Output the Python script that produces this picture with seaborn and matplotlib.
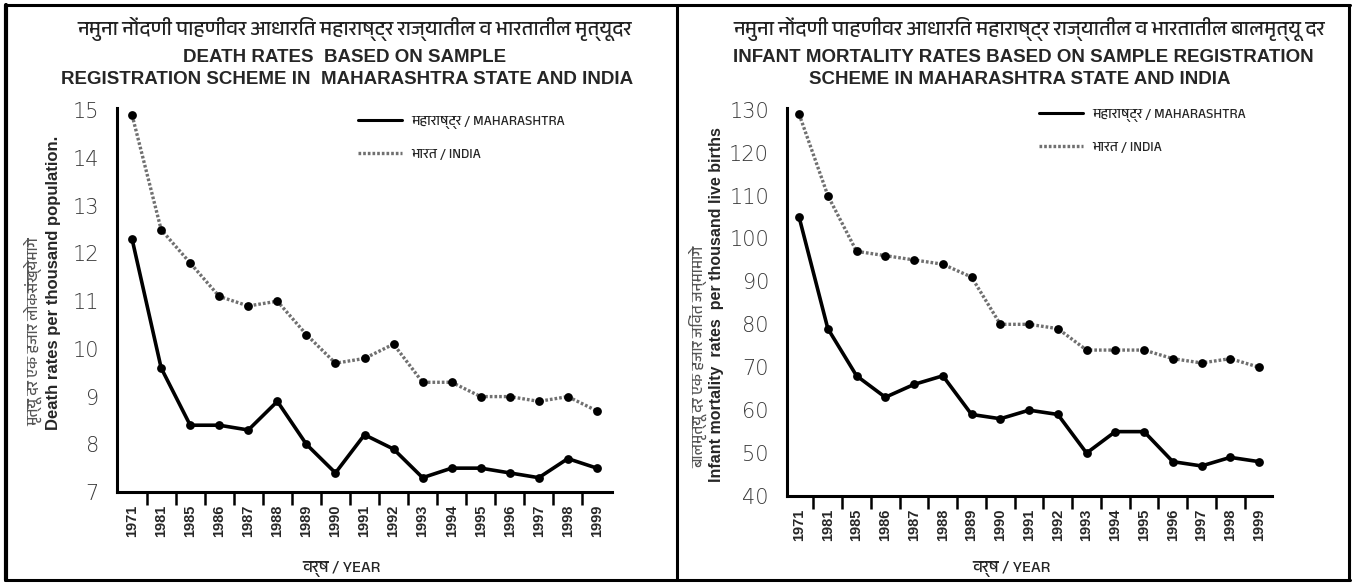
import numpy as np
import pandas as pd
import matplotlib
matplotlib.use("Agg")
import matplotlib.pyplot as plt
from matplotlib import font_manager
from matplotlib.lines import Line2D
from matplotlib.ticker import FixedLocator, NullFormatter
import seaborn as sns

# ---- data -------------------------------------------------------------
years = ["1971", "1981", "1985", "1986", "1987", "1988", "1989", "1990", "1991",
         "1992", "1993", "1994", "1995", "1996", "1997", "1998", "1999"]

death_maharashtra = [12.3, 9.6, 8.4, 8.4, 8.3, 8.9, 8.0, 7.4, 8.2, 7.9, 7.3, 7.5,
                     7.5, 7.4, 7.3, 7.7, 7.5]
death_india = [14.9, 12.5, 11.8, 11.1, 10.9, 11.0, 10.3, 9.7, 9.8, 10.1, 9.3, 9.3,
               9.0, 9.0, 8.9, 9.0, 8.7]

imr_maharashtra = [105, 79, 68, 63, 66, 68, 59, 58, 60, 59, 50, 55, 55, 48, 47, 49, 48]
imr_india = [129, 110, 97, 96, 95, 94, 91, 80, 80, 79, 74, 74, 74, 72, 71, 72, 70]

death_yticks = [7, 8, 9, 10, 11, 12, 13, 14, 15]
imr_yticks = [40, 50, 60, 70, 80, 90, 100, 110, 120, 130]

series_labels = ["महाराष्ट्र / MAHARASHTRA", "भारत / INDIA"]

# ---- fonts ------------------------------------------------------------
sns.set_theme(style="white")
names = {f.name for f in font_manager.fontManager.ttflist}
deva = [n for n in names if "Devanagari" in n or "Lohit" in n or "Mukta" in n
        or "Hind" in n or "Mangal" in n or "Gargi" in n]
latin = "Liberation Sans"
families = [latin] + sorted(deva) + ["DejaVu Sans"]
plt.rcParams["font.family"] = families
deva_fam = sorted(deva) + [latin, "DejaVu Sans"]

# ---- figure -----------------------------------------------------------
fig = plt.figure(figsize=(13.54, 5.83), dpi=100)
fig.patch.set_facecolor("white")

W, H = 1354, 583


def fx(px):
    return px / W


def fy(py):
    return 1 - py / H


def make_long(m, i):
    return pd.DataFrame({
        "pos": list(range(len(years))) * 2,
        "value": list(m) + list(i),
        "series": [series_labels[0]] * len(years) + [series_labels[1]] * len(years),
    })


INDIA_COLOR = "#707070"
INDIA_DASH = (0, (0.8, 0.6))


def draw_panel(ax, df, yticks, ylim, xlim):
    pal = {series_labels[0]: "black", series_labels[1]: INDIA_COLOR}
    for name, ls, lw in [(series_labels[1], INDIA_DASH, 2.4),
                         (series_labels[0], "-", 2.6)]:
        sub = df[df["series"] == name]
        sns.lineplot(data=sub, x="pos", y="value", ax=ax, color=pal[name],
                     linestyle=ls, linewidth=lw, legend=False, zorder=2)
        ax.scatter(sub["pos"], sub["value"], s=40, color="black", zorder=3,
                   linewidths=0)
    ax.set_xlim(*xlim)
    ax.set_ylim(*ylim)
    ax.set_xlabel("")
    ax.set_ylabel("")
    for s in ["top", "right"]:
        ax.spines[s].set_visible(False)
    for s in ["left", "bottom"]:
        ax.spines[s].set_color("black")
        ax.spines[s].set_linewidth(2.2)
    ax.set_xticks(range(len(years)))
    ax.set_xticklabels(years, rotation=90, fontsize=10.5, fontweight="bold",
                       family="Liberation Sans")
    ax.xaxis.set_minor_locator(FixedLocator(np.arange(len(years) - 1) + 0.5))
    ax.xaxis.set_minor_formatter(NullFormatter())
    ax.tick_params(axis="x", which="major", length=0, pad=9)
    ax.tick_params(axis="x", which="minor", bottom=True, length=9, width=1.8,
                   direction="out", color="black")
    ax.set_yticks(yticks)
    ax.set_yticklabels([str(v) for v in yticks], fontsize=15, color="#3a3a3a",
                       family="DejaVu Sans", fontweight="light")
    ax.tick_params(axis="y", length=0, pad=13)
    ax.grid(False)


# left panel: crude death rates
ax1 = fig.add_axes([fx(117), fy(492), fx(612) - fx(117), fy(108) - fy(492)])
draw_panel(ax1, make_long(death_maharashtra, death_india), death_yticks,
           (7, 15.05), (-0.52, 16.52))

# right panel: infant mortality
ax2 = fig.add_axes([fx(787), fy(496), fx(1272) - fx(787), fy(108) - fy(496)])
draw_panel(ax2, make_long(imr_maharashtra, imr_india), imr_yticks,
           (40, 130.4), (-0.42, 16.45))

# ---- titles -----------------------------------------------------------
fig.text(fx(355), fy(29), "नमुना नोंदणी पाहणीवर आधारित महाराष्ट्र राज्यातील व भारतातील मृत्यूदर",
         ha="center", va="center", fontsize=14.5, family=deva_fam, color="#222")
fig.text(fx(345), fy(58), "DEATH RATES  BASED ON SAMPLE", ha="center", va="center",
         fontsize=13.5, fontweight="bold")
fig.text(fx(347), fy(79), "REGISTRATION SCHEME IN  MAHARASHTRA STATE AND INDIA",
         ha="center", va="center", fontsize=13.5, fontweight="bold")

fig.text(fx(1029), fy(29), "नमुना नोंदणी पाहणीवर आधारित महाराष्ट्र राज्यातील व भारतातील बालमृत्यू दर",
         ha="center", va="center", fontsize=14.5, family=deva_fam, color="#222")
fig.text(fx(1023), fy(58), "INFANT MORTALITY RATES BASED ON SAMPLE REGISTRATION",
         ha="center", va="center", fontsize=13.5, fontweight="bold")
fig.text(fx(1020), fy(79), "SCHEME IN MAHARASHTRA STATE AND INDIA",
         ha="center", va="center", fontsize=13.5, fontweight="bold")

# ---- axis titles --------------------------------------------------------
fig.text(fx(33), fy(332), "मृत्यू दर एक हजार लोकसंख्येमागे", rotation=90,
         ha="center", va="center", fontsize=11, color="#555", family=deva_fam)
fig.text(fx(54), fy(283), "Death rates per thousand population.", rotation=90,
         ha="center", va="center", fontsize=12, fontweight="bold")
fig.text(fx(698), fy(357), "बालमृत्यू दर एक हजार जिवंत जन्मामागे", rotation=90,
         ha="center", va="center", fontsize=11, color="#555", family=deva_fam)
fig.text(fx(717), fy(305), "Infant mortality  rates  per thousand live births", rotation=90,
         ha="center", va="center", fontsize=11.5, fontweight="bold")

fig.text(fx(342), fy(569), "वर्ष / YEAR", ha="center", va="center", fontsize=12,
         family=deva_fam)
fig.text(fx(1012), fy(569), "वर्ष / YEAR", ha="center", va="center", fontsize=12,
         family=deva_fam)

# ---- legends ------------------------------------------------------------
handles = [Line2D([], [], color="black", lw=2.2),
           Line2D([], [], color=INDIA_COLOR, lw=2.4, ls=INDIA_DASH)]
for anchor in [(fx(345), fy(103)), (fx(1026), fy(96))]:
    fig.legend(handles, series_labels, loc="upper left", bbox_to_anchor=anchor,
               frameon=False, handlelength=3.2, labelspacing=1.35, handletextpad=0.7,
               prop={"size": 10, "weight": "bold", "family": deva_fam})

# ---- outer frame ----------------------------------------------------------
frame = dict(color="black", lw=2.2, transform=fig.transFigure)
fig.add_artist(Line2D([fx(5), fx(1350)], [fy(5), fy(5)], **frame))
fig.add_artist(Line2D([fx(5), fx(1350)], [fy(580), fy(580)], **frame))
fig.add_artist(Line2D([fx(6), fx(6)], [fy(5), fy(580)], color="black", lw=3,
                      transform=fig.transFigure))
fig.add_artist(Line2D([fx(1349), fx(1349)], [fy(5), fy(580)], **frame))
fig.add_artist(Line2D([fx(677), fx(677)], [fy(5), fy(580)], **frame))

fig.savefig("out.png", dpi=100, facecolor="white")
